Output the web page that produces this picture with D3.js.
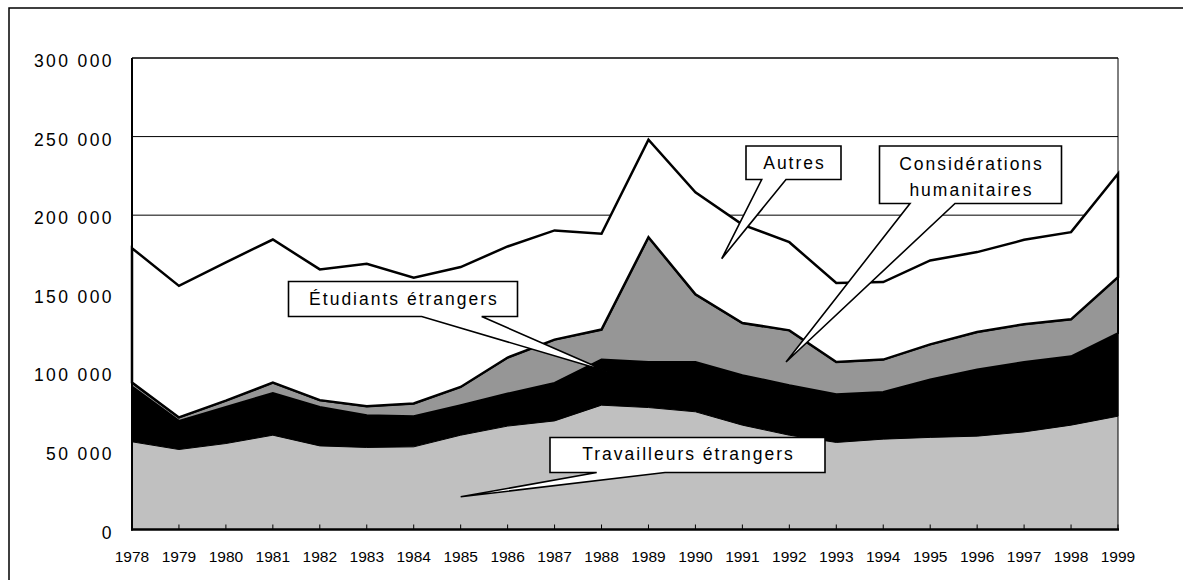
<html>
<meta charset="utf-8">
<script src="https://d3js.org/d3.v7.min.js"></script>
<style>
body { margin: 0; background: #fff; }
text { font-family: "Liberation Sans", Arial, sans-serif; fill: #000; }
</style>
<body>
<div id="chart"></div>
<script>
var WIDTH = 1183, HEIGHT = 580;

// years and the four stacked series (persons)
var years = [1978, 1979, 1980, 1981, 1982, 1983, 1984, 1985, 1986, 1987, 1988,
             1989, 1990, 1991, 1992, 1993, 1994, 1995, 1996, 1997, 1998, 1999];
var travailleurs = [55800, 50900, 54700, 60000, 53200, 52200, 52600, 60000, 65800, 69100, 79100,
                    77600, 74900, 66400, 60000, 55400, 57500, 58600, 59400, 62100, 66400, 72100];
var etudiants = [35200, 18200, 23300, 26900, 24800, 20500, 19500, 19100, 20700, 24200, 29000,
                 29000, 31700, 31800, 31800, 30700, 30000, 36800, 42400, 44500, 43800, 52900];
var humanitaires = [2500, 2200, 4000, 6600, 4300, 5800, 8100, 11600, 22900, 27500, 19100,
                    79400, 43000, 33200, 34900, 20500, 20600, 22400, 23900, 24000, 23500, 35600];
var autres = [85500, 83700, 88000, 91000, 83200, 90600, 80000, 76300, 70700, 69500, 61000,
              62000, 65000, 62600, 56100, 50200, 49300, 53400, 50800, 53700, 55500, 65700];
var yTicks = [0, 50000, 100000, 150000, 200000, 250000, 300000];

var keys = ["travailleurs", "etudiants", "humanitaires", "autres"];
var fills = { travailleurs: "#c0c0c0", etudiants: "#000000", humanitaires: "#969696", autres: "#ffffff" };
var strokes = { travailleurs: "none", etudiants: "#000", humanitaires: "#000", autres: "#000" };
var strokeW = { travailleurs: 0, etudiants: 1, humanitaires: 2, autres: 2.5 };

var rows = years.map(function (yr, i) {
  return { year: yr, travailleurs: travailleurs[i], etudiants: etudiants[i],
           humanitaires: humanitaires[i], autres: autres[i] };
});

var PL = 132, PR = 1118, PT = 58, PB = 529.5;

var x = d3.scaleLinear().domain([1978, 1999]).range([PL, PR]);
var y = d3.scaleLinear().domain([0, 300000]).range([PB, PT]);

var svg = d3.select("#chart").append("svg")
  .attr("width", WIDTH).attr("height", HEIGHT);

// outer frame
svg.append("rect")
  .attr("x", 9).attr("y", 8).attr("width", 1200).attr("height", 600)
  .attr("fill", "#fff").attr("stroke", "#000").attr("stroke-width", 1.5);

// gridlines
svg.selectAll(".grid").data(yTicks.filter(function (d) { return d > 0; }))
  .enter().append("line")
  .attr("x1", PL).attr("x2", PR)
  .attr("y1", function (d) { return y(d); }).attr("y2", function (d) { return y(d); })
  .attr("stroke", "#000").attr("stroke-width", 1);

// stacked areas
var series = d3.stack().keys(keys)(rows);
var area = d3.area()
  .x(function (d) { return x(d.data.year); })
  .y0(function (d) { return y(d[0]); })
  .y1(function (d) { return y(d[1]); });

svg.selectAll(".layer").data(series)
  .enter().append("path")
  .attr("d", area)
  .attr("fill", function (d) { return fills[d.key]; })
  .attr("stroke", function (d) { return strokes[d.key]; })
  .attr("stroke-width", function (d) { return strokeW[d.key]; })
  .attr("stroke-linejoin", "miter");

// x tick marks (inward)
svg.selectAll(".xtick").data(years)
  .enter().append("line")
  .attr("x1", function (d) { return x(d); }).attr("x2", function (d) { return x(d); })
  .attr("y1", PB).attr("y2", PB - 5)
  .attr("stroke", "#000").attr("stroke-width", 1);

// plot border (thin) and axes (thick)
svg.append("path")
  .attr("d", "M" + PL + "," + PT + "H" + PR + "V" + PB)
  .attr("fill", "none").attr("stroke", "#000").attr("stroke-width", 1);
svg.append("line")
  .attr("x1", PL).attr("x2", PL).attr("y1", PT).attr("y2", PB + 1)
  .attr("stroke", "#000").attr("stroke-width", 2);
svg.append("line")
  .attr("x1", PL - 1).attr("x2", PR + 1).attr("y1", PB).attr("y2", PB)
  .attr("stroke", "#000").attr("stroke-width", 2.5);

// y labels
var fmt = function (d) { return d === 0 ? "0" : d3.format(",")(d).replace(/,/g, " "); };
svg.selectAll(".ylab").data(yTicks)
  .enter().append("text")
  .attr("x", 114).attr("y", function (d) { return y(d) + 9; })
  .attr("text-anchor", "end")
  .style("font-size", "17.5px").style("letter-spacing", "2.4px")
  .text(fmt);

// x labels
svg.selectAll(".xlab").data(years)
  .enter().append("text")
  .attr("x", function (d) { return x(d); }).attr("y", 561.5)
  .attr("text-anchor", "middle")
  .style("font-size", "15.5px")
  .text(function (d) { return d; });

// callouts: box in pixels, pointer tip in data space
var callouts = [
  { lines: ["Autres"], box: [746, 146, 841, 179.5], base: [761.7, 786], tip: [1990.56, 172300], base0: 168.5 },
  { lines: ["Considérations", "humanitaires"], box: [879.5, 146, 1061.5, 203.5], base: [910, 955], tip: [1991.93, 106600], base0: 170 },
  { lines: ["Étudiants étrangers"], box: [288.5, 281.5, 517.5, 316.5], base: [421.7, 481.7], tip: [1988.11, 100700], base0: 305 },
  { lines: ["Travailleurs étrangers"], box: [550, 437.5, 825, 472.5], base: [596.7, 665], tip: [1985, 20800], base0: 459.5 }
];

callouts.forEach(function (c) {
  var b = c.box, tx = x(c.tip[0]), ty = y(c.tip[1]);
  var p = d3.path();
  p.moveTo(b[0], b[1]);
  p.lineTo(b[2], b[1]);
  p.lineTo(b[2], b[3]);
  p.lineTo(c.base[1], b[3]);
  p.lineTo(tx, ty);
  p.lineTo(c.base[0], b[3]);
  p.lineTo(b[0], b[3]);
  p.closePath();
  svg.append("path").attr("d", p.toString())
    .attr("fill", "#fff").attr("stroke", "#000").attr("stroke-width", 1.6)
    .attr("stroke-linejoin", "miter");
  c.lines.forEach(function (t, i) {
    svg.append("text")
      .attr("x", (b[0] + b[2]) / 2 + 1).attr("y", c.base0 + i * 25.5)
      .attr("text-anchor", "middle")
      .style("font-size", "17.5px").style("letter-spacing", "2px")
      .text(t);
  });
});
</script>
</body>
</html>
